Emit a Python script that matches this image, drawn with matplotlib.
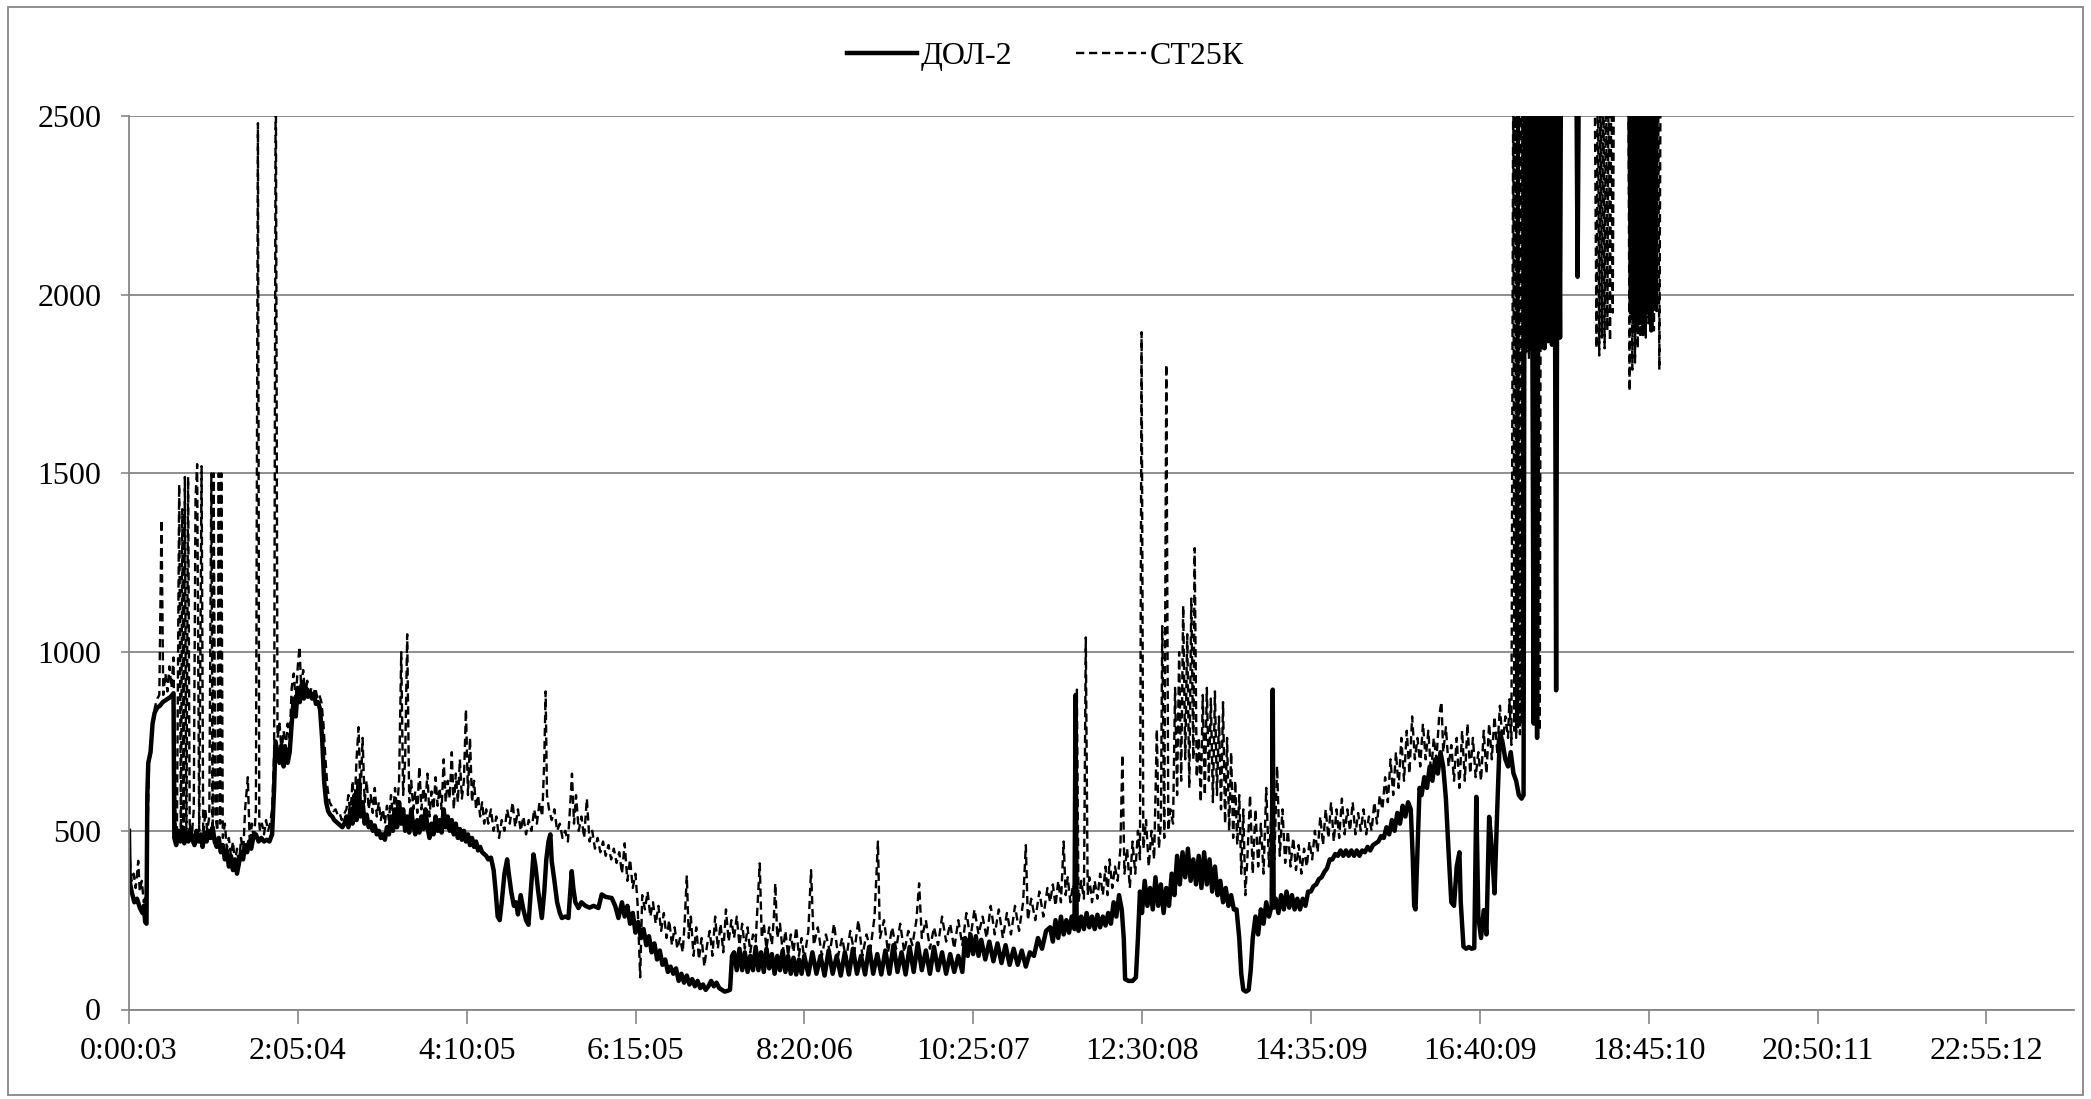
import matplotlib
matplotlib.use("Agg")
import matplotlib.pyplot as plt
from matplotlib.patches import Rectangle

# time in minutes since 0:00:00, value
dol2_pts = [
    (0, 500), (0.5, 360), (2, 330), (4, 300), (6, 310), (8, 285), (10, 270), (11, 290), (12, 245), (13, 240),
    (13.6, 600), (14.3, 690), (16, 720), (17.5, 800), (19, 830), (21, 845), (23, 850), (25, 860), (27, 865),
    (29, 870), (31, 875), (33, 885), (33.6, 480),
    (35, 460), (36.5, 500), (38, 470), (39.5, 510), (41, 465), (42.5, 495), (44, 470), (45.5, 505), (47, 475),
    (48.5, 460), (50, 500), (51.5, 470), (53, 490), (54.5, 455), (56, 495), (57.5, 470), (59, 500), (60.5, 480),
    (62, 510), (63.5, 470), (65, 455),
    (66.5, 480), (68, 440), (69.5, 460), (71, 420), (72.5, 445), (74, 400), (75.5, 430), (77, 390), (78.5, 420),
    (80, 380), (81.5, 410), (83, 440), (84.5, 420), (86, 460), (87.5, 440), (89, 470), (90.5, 450), (92, 480),
    (94, 490), (96, 470), (98, 480), (100, 470), (102, 475), (104, 470), (106, 490),
    (107.5, 620), (108.5, 750), (110, 720), (111.5, 690), (113, 740), (114.5, 680), (116, 730), (117.5, 690),
    (119, 720), (120.5, 800), (122, 870), (123.5, 820), (125, 900), (126.5, 860), (128, 910), (129.5, 870),
    (131, 900), (132.5, 875), (134, 890), (135.5, 870), (137, 880), (138.5, 855), (140, 860), (141.5, 840),
    (143, 760), (144.5, 640), (146, 580),
    (147.5, 555), (149, 545), (150.5, 540), (152, 530), (153.5, 525), (155, 520), (156.5, 515), (158, 510),
    (159.5, 520),
    (161, 540), (162.5, 510), (164, 560), (165.5, 520), (167, 600), (168.5, 530), (170, 640), (171.5, 540),
    (173, 580), (174.5, 520), (176, 545), (177.5, 510), (179, 525), (180.5, 500), (182, 515), (183.5, 490),
    (185, 500), (186.5, 480), (188, 490), (189.5, 475),
    (191, 510), (192.5, 490), (194, 540), (195.5, 500), (197, 560), (198.5, 510), (200, 580), (201.5, 520),
    (203, 560), (204.5, 500), (206, 540), (207.5, 495), (209, 560), (210.5, 515), (212, 490), (213.5, 530),
    (215, 495), (216.5, 540), (218, 505), (219.5, 560), (221, 510), (222.5, 480), (224, 520), (225.5, 490),
    (227, 540), (228.5, 500), (230, 530), (231.5, 495), (233, 560), (234.5, 510), (236, 540), (237.5, 500),
    (239, 530), (240.5, 490), (242, 520), (243.5, 480), (245, 505), (246.5, 475), (248, 500), (249.5, 470),
    (251, 490), (252.5, 460), (254, 480), (255.5, 455), (257, 470), (258.5, 445), (260, 455), (261.5, 440),
    (263, 435), (264.5, 430),
    (266, 420), (268, 425), (270, 390), (271.5, 330), (273, 260), (274.5, 250), (276, 300), (278, 380),
    (280, 420), (281, 387), (283, 330), (285, 290), (286.5, 300), (288, 266), (290, 320), (292, 280), (294, 250),
    (295.8, 237), (297.5, 330), (299.5, 434), (301, 400), (303, 330), (305.7, 256), (307.5, 330), (309, 420),
    (310.6, 470), (312, 490), (313, 415), (315, 360), (317, 300), (319, 270), (320.5, 256), (323, 260),
    (325.4, 256), (327.8, 387), (329, 340), (330.5, 300), (332.8, 284), (335, 300), (338, 290), (341, 285),
    (344, 290), (347.6, 284), (350, 322), (353, 315), (357.4, 312), (360, 290), (362.4, 256),
    (365, 300), (367, 260), (369, 290), (371, 240), (373, 270), (375, 215), (377, 245), (379, 200), (381, 225),
    (383, 180), (385, 205), (387, 160), (389, 185), (391, 140), (393, 165), (395, 125), (397, 140), (399, 105),
    (401, 120), (403, 100), (405, 115), (407, 80), (409, 100), (411, 75), (413, 95), (415, 70), (417, 85),
    (419, 65), (421, 80), (423, 60), (425, 70), (427, 55), (429, 65), (431, 80), (433, 65), (435, 75), (437, 60),
    (439, 55), (441, 50), (443, 52), (445, 55), (446.5, 150),
    (448, 160), (450, 110), (452, 170), (454, 110), (456, 160), (458, 105), (460, 150), (462, 110), (464, 175),
    (466, 110), (468, 160), (470, 105), (472, 170), (474, 115), (476, 155), (478, 100), (480, 150), (482, 110),
    (484, 165), (486, 105), (488, 150), (490, 100), (492, 145), (494, 98), (496, 140), (498, 100), (500, 150),
    (503, 98), (506, 160), (509, 100), (512, 150), (515, 95), (518, 165), (521, 100), (524, 150), (527, 95),
    (530, 160), (533, 98), (536, 170), (539, 100), (542, 150), (545, 98), (548, 175), (551, 100), (554, 155),
    (557, 98), (560, 165), (563, 100), (566, 180), (569, 105), (572, 160), (575, 98), (578, 175), (581, 105),
    (584, 185), (587, 110), (590, 165), (593, 100), (596, 175), (599, 110), (602, 160), (605, 100), (608, 155),
    (611, 105), (614, 150), (617, 105),
    (619, 200), (621, 150), (623, 210), (625, 155), (627, 205), (629, 150), (631, 195), (634, 140), (637, 190),
    (640, 135), (643, 185), (646, 130), (649, 180), (652, 125), (655, 170), (658, 125), (661, 165), (664, 120),
    (667, 160), (670, 150), (673, 200), (676, 170), (679, 220),
    (682, 230), (684, 190), (686, 250), (688, 200), (690, 260), (692, 210), (694, 250), (696, 215), (698, 260),
    (700, 225), (700.8, 880), (701.6, 260), (703, 220), (705, 260), (707, 225), (709, 270), (711, 230),
    (713, 260), (715, 225), (717, 265), (719, 230), (721, 260), (723, 235), (725, 270), (727, 240), (729, 300),
    (731, 260), (733, 320), (735, 280), (736.5, 200), (737.5, 85), (740, 80), (743, 80), (745.5, 90),
    (747, 200), (748.5, 330), (750, 270), (752, 360), (754, 290),
    (756, 340), (758, 280), (760, 370), (762, 290), (764, 350), (766, 270), (768, 340), (770, 290), (772, 380),
    (774, 320), (776, 430), (778, 350), (780, 440), (782, 370), (784, 450), (786, 360), (788, 420), (790, 350),
    (792, 430), (794, 340), (796, 440), (798, 350), (800, 420), (802, 330), (804, 400), (806, 320), (808, 360),
    (810, 300), (812, 340), (814, 290), (816, 320), (818, 280), (820, 280), (822, 200), (823.5, 100),
    (825, 55), (827, 50), (829, 55), (830.5, 110), (832, 200), (834, 260), (836, 210), (838, 280), (840, 240),
    (842, 300), (844, 260), (846, 290), (846.8, 895), (847.5, 285),
    (849, 310), (851, 270), (853, 320), (855, 280), (857, 330), (859, 285), (861, 320), (863, 280), (865, 310),
    (867, 280), (869, 310), (871, 290), (873, 330), (875, 330), (877, 345), (879, 350), (881, 365), (883, 370),
    (885, 385), (887, 395), (889, 420), (891, 420), (893, 435), (895, 430), (897, 445), (899, 430), (901, 445),
    (903, 430), (905, 445), (907, 430), (909, 445), (911, 430), (913, 445), (915, 440), (917, 455), (919, 445),
    (921, 460), (923, 465), (925, 470), (927, 485), (929, 480), (931, 510), (933, 490), (935, 530), (937, 500),
    (939, 550), (941, 520), (943, 570), (945, 540), (947, 580), (949, 560), (950.5, 420), (951.5, 290),
    (952.5, 280), (954, 450), (955.5, 620), (957, 600), (959, 650), (961, 620), (963, 680), (965, 640),
    (967, 700), (969, 660), (971, 720), (973, 680), (975, 590), (977, 440), (979, 300), (981, 290), (983, 400),
    (985, 440), (986, 300), (988, 176), (990, 170), (992, 175), (994, 170), (996, 172), (997.5, 595),
    (999, 260), (1001, 200), (1003, 278), (1005, 210), (1007, 539), (1009, 450), (1011, 325), (1013, 560),
    (1015, 773), (1017, 746), (1019, 700), (1021, 680), (1023, 720), (1025, 661), (1027, 640), (1029, 600),
    (1031, 590), (1032.5, 600),
    (1033.5, 3000), (1035, 1860), (1036, 3000), (1037, 1850), (1038, 3000), (1039, 1870), (1040, 800),
    (1041, 3000), (1042.5, 760), (1044, 3000), (1045, 1860), (1046, 3000), (1048, 1850), (1049, 3000),
    (1050.5, 1870), (1052, 3000), (1053.5, 1860), (1055, 3000), (1056.6, 893), (1058, 3000), (1059.5, 1880),
    (1060.5, 3000), (1071, 3000), (1072.5, 2050), (1074, 3000), (1110, 3000), (1112, 1950), (1113, 3000),
    (1115, 1900), (1116, 3000), (1118, 1920), (1119, 3000), (1121, 1890), (1122, 3000), (1124, 1950),
    (1125, 3000), (1127, 1900), (1128, 3000), (1130, 1960), (1131, 3000), (1440, 3000),
]

st25k_pts = [
    (0, 490), (1, 400), (2, 360), (3.5, 380), (5, 340), (6.9, 416), (8, 330), (9.5, 360), (11, 300),
    (12.5, 320), (13.8, 500), (15, 710), (16.5, 740), (18, 820), (19.5, 850), (21, 870), (22.5, 880),
    (24.1, 1370), (25.4, 880), (27, 940), (28.5, 890), (30, 960), (31.5, 900), (33, 985), (34.5, 520),
    (35.5, 470), (37.2, 1469), (38.5, 480), (39.5, 1400), (40.5, 500), (41.4, 1490), (42.5, 470), (43.8, 1490),
    (45, 520), (46.5, 480), (48, 560), (49.3, 1430), (50.5, 1526), (52, 500), (53.8, 1520), (55, 470),
    (56.5, 560), (58, 500), (59.5, 540), (61, 1500), (62, 480), (62.7, 1500), (64, 540), (65.5, 500),
    (66.5, 1500), (67.5, 520), (68.4, 1500), (69.5, 480),
    (71, 520), (72.5, 450), (74, 480), (75.5, 430), (77, 470), (78.5, 410), (80, 450), (81.5, 400), (83, 480),
    (84.5, 430), (86, 560), (88, 650), (89.5, 460), (91, 520), (92.5, 470), (94, 560), (95.5, 2480),
    (96.5, 520), (97, 500), (98.5, 520), (100, 490), (101.5, 530), (103, 500), (104.5, 520), (106, 560),
    (107.5, 720), (108.7, 2700), (110, 760), (111.5, 800), (113, 720), (114.5, 780), (116, 730), (117.5, 800),
    (119, 760), (120.5, 900), (122, 940), (123.5, 860), (125, 960), (126.3, 1015), (127.5, 900), (129, 950),
    (130.5, 880), (132, 920), (133.5, 870), (135, 900), (136.5, 880), (138, 900), (139.5, 870), (141, 880),
    (142.5, 860), (144, 800), (145.5, 700), (147, 620), (148.5, 580), (150, 570), (151.5, 555), (153, 560),
    (154.5, 545), (156, 550), (157.5, 530), (159, 545),
    (161, 560), (162.5, 600), (164, 540), (165.5, 640), (167, 560), (168.5, 700), (170, 790), (171.5, 600),
    (173, 760), (174.5, 580), (176, 640), (177.5, 560), (179, 600), (180.5, 550), (182, 620), (183.5, 540),
    (185, 580), (186.5, 530), (188, 560), (189.5, 520), (191, 570), (192.5, 530), (194, 600), (195.5, 540),
    (197, 620), (198.5, 560), (200, 640), (201.6, 1000), (203, 600), (204.5, 700), (206, 1050), (207.5, 580),
    (209, 640), (210.5, 560), (212, 610), (213.5, 550), (215, 680), (216.5, 560), (218, 620), (219.5, 580),
    (221, 660), (222.5, 540), (224, 610), (225.5, 560), (227, 650), (228.5, 570), (230, 620), (231.5, 560),
    (233, 700), (234.5, 580), (236, 640), (237.5, 590), (239, 720), (240.5, 560), (242, 660), (243.5, 580),
    (245, 700), (246.5, 590), (248, 640), (249.5, 840), (251, 600), (252.5, 760), (254, 580), (255.5, 640),
    (257, 560), (258.5, 600), (260, 540), (261.5, 580), (263, 520), (264.5, 560),
    (266, 520), (268, 560), (270, 500), (272, 540), (274, 480), (276, 530), (278, 500), (280, 560), (282, 520),
    (284, 580), (286, 510), (288, 560), (290, 500), (292, 540), (294, 490), (296, 530), (298, 500), (300, 560),
    (302, 520), (304, 580), (306, 540), (307.5, 700), (308.5, 890), (309.5, 600), (311, 560), (313, 530),
    (315, 560), (317, 500), (319, 520), (321, 480), (323, 500), (325, 470), (326.5, 560), (328, 660),
    (329.5, 520), (331, 600), (333, 500), (335, 540), (337, 480), (339, 590), (341, 470), (343, 500), (345, 450),
    (347, 480), (349, 440), (351, 470), (353, 430), (355, 460), (357, 420), (359, 450), (361, 410),
    (363, 440), (365, 380), (367, 465), (369, 360), (371, 420), (373, 340), (375, 380), (376.5, 300),
    (378.5, 90), (380, 320), (382, 280), (384, 330), (386, 260), (388, 300), (390, 240), (392, 290), (394, 220),
    (396, 270), (398, 200), (400, 250), (402, 180), (404, 230), (406, 170), (408, 200), (410, 160),
    (411.5, 250), (413, 375), (414.5, 200), (416, 260), (418, 150), (420, 230), (422, 140), (424, 200),
    (426, 120), (428, 180), (430, 220), (432, 150), (434, 260), (436, 170), (438, 240), (440, 160), (442, 280),
    (444, 190), (446, 250),
    (448, 200), (450, 260), (452, 180), (454, 240), (456, 170), (458, 230), (460, 160), (462, 210), (464, 190),
    (465.5, 300), (467, 409), (468.5, 200), (470, 240), (472, 170), (474, 230), (476, 180), (477.5, 260),
    (478.5, 353), (480, 200), (482, 240), (484, 160), (486, 220), (488, 150), (490, 210), (492, 160),
    (494, 230), (496, 150), (498, 200), (500, 140), (503, 220), (505, 390), (507, 180), (510, 230), (513, 150),
    (516, 210), (519, 160), (522, 240), (525, 150), (528, 200), (531, 140), (534, 220), (537, 160), (540, 250),
    (543, 150), (546, 210), (549, 170), (552, 260), (554.5, 470), (556, 200), (559, 250), (562, 160),
    (565, 230), (568, 170), (571, 240), (574, 160), (577, 220), (580, 180), (583, 250), (585, 353), (587, 200),
    (590, 250), (593, 170), (596, 230), (599, 180), (602, 260), (605, 190), (608, 240), (611, 170), (614, 250),
    (617, 180),
    (620, 270), (623, 200), (626, 280), (629, 210), (632, 260), (635, 200), (638, 290), (641, 210), (644, 280),
    (647, 200), (650, 270), (653, 210), (656, 290), (659, 220), (662, 300), (664, 460), (665.5, 250),
    (668, 310), (671, 250), (674, 330), (677, 260), (680, 340),
    (682, 300), (684, 350), (686, 290), (688, 360), (690, 300), (692, 470), (693.5, 320), (695, 370),
    (697, 300), (699, 350), (700.5, 320), (701.8, 895), (703, 300), (705, 360), (707, 310), (708.4, 1041),
    (709.8, 320), (711, 370), (713, 300), (715, 360), (717, 310), (719, 380), (721, 320), (723, 400),
    (724.5, 320), (726, 420), (728, 340), (730, 400), (732, 360), (734, 450), (735.5, 713), (737, 380),
    (739, 450), (741, 340), (743, 470), (745, 380), (747, 500), (748.5, 420), (749.7, 1895), (751, 450),
    (753, 530), (755, 400), (757, 500), (759, 420), (761, 784), (762.5, 450), (764, 520), (765, 1073),
    (766.5, 480), (768, 1805), (769.5, 500), (771, 560), (773, 520),
    (774.5, 900), (776, 600), (777.5, 1000), (779, 640), (780.5, 1130), (782, 700), (783.5, 1050), (785, 620),
    (786.5, 1150), (788, 700), (789, 1291), (790.5, 650), (792, 760), (793.5, 580), (795, 880), (796.5, 600),
    (798, 900), (799.5, 640), (801, 870), (802.5, 580), (804, 890), (805.5, 600), (807, 820), (808.5, 560),
    (810, 860), (811.5, 520), (813, 760), (814.5, 500), (816, 720), (817.5, 480), (819, 640), (820.5, 460),
    (822, 600), (823.5, 380), (825, 560), (826.5, 320),
    (828, 420), (830, 600), (832, 380), (834, 560), (836, 400), (838, 520), (840, 380), (842, 620), (844, 400),
    (846, 580), (848, 420), (850, 681), (852, 430), (854, 560), (856, 410), (858, 500), (860, 400), (862, 480),
    (864, 390), (866, 460), (868, 380), (870, 450), (872, 400), (874, 470), (876, 420), (878, 500), (880, 440),
    (882, 540), (884, 460), (886, 560), (888, 480), (890, 580), (892, 470), (894, 560), (896, 480), (898, 590),
    (900, 490), (902, 560), (904, 500), (906, 580), (908, 490), (910, 550), (912, 500), (914, 560), (916, 490),
    (918, 540), (920, 500), (922, 580), (924, 520), (926, 600), (928, 560), (930, 650), (932, 580), (934, 700),
    (936, 600), (938, 720), (940, 620), (942, 760), (944, 640), (946, 780), (948, 660), (950, 820), (952, 700),
    (954, 760), (956, 680), (958, 800), (960, 700), (962, 780), (964, 660), (966, 760), (968, 700), (970, 820),
    (971.7, 861), (973, 720), (975, 790), (977, 680), (979, 740), (981, 640), (983, 760), (985, 620),
    (987, 780), (989, 640), (991, 800), (993, 660), (995, 760), (997, 650), (999, 720), (1001, 640),
    (1003, 780), (1005, 660), (1007, 800), (1009, 700), (1011, 820), (1013, 720), (1015, 850), (1017, 740),
    (1019, 820), (1021, 760), (1022, 868), (1023.5, 740),
    (1024.9, 2700), (1025.6, 780), (1026.3, 2700), (1027, 760), (1027.7, 2700), (1028.4, 790), (1029.1, 2700),
    (1029.8, 770), (1030.5, 2700), (1031.2, 800), (1031.9, 2700), (1032.6, 820), (1033.3, 2700),
    (1034.5, 1840), (1035.5, 2700), (1036.5, 1820), (1037.5, 2700), (1038.5, 1850), (1039.5, 2700),
    (1040.5, 1800), (1041.5, 2700), (1042.5, 766), (1043.5, 2700), (1044.5, 780), (1045.5, 2700),
    (1046.5, 1850), (1047.5, 2700), (1085, 2700),
    (1086.5, 1850), (1087.5, 2700), (1088.5, 1830), (1089.5, 2700), (1090.5, 1880), (1091.5, 2700),
    (1092.5, 1850), (1093.5, 2700), (1094.5, 1900), (1095.5, 2700), (1096.5, 1870), (1097.5, 2700),
    (1098.5, 1950), (1099.5, 2700), (1110, 2700),
    (1111, 1730), (1112, 2700), (1113, 1790), (1114, 2700), (1115, 1810), (1116, 2700), (1117, 1850),
    (1118, 2700), (1119, 1880), (1120, 2700), (1121, 1900), (1122, 2700), (1123, 1880), (1124, 2700),
    (1125, 1920), (1126, 2700), (1127, 1960), (1128, 2700), (1129, 1900), (1130, 2700), (1131, 1950),
    (1132, 2700), (1133, 1790), (1134, 2700), (1440, 2700),
]

# category labels shown every 7501 s
tick_sec = [3, 7504, 15005, 22505, 30006, 37507, 45008, 52509, 60009, 67510, 75011, 82512]
tick_labels = ["0:00:03", "2:05:04", "4:10:05", "6:15:05", "8:20:06", "10:25:07",
               "12:30:08", "14:35:09", "16:40:09", "18:45:10", "20:50:11", "22:55:12"]
y_ticks = [0, 500, 1000, 1500, 2000, 2500]

plt.rcParams["font.family"] = ["Liberation Serif", "DejaVu Serif"]

fig = plt.figure(figsize=(20.91, 10.99), dpi=100)
ax = fig.add_axes([129 / 2091, 1 - 1009.5 / 1099, (2074 - 129) / 2091, (1009.5 - 116) / 1099])

dt, dv = zip(*dol2_pts)
st, sv = zip(*st25k_pts)
ax.plot(dt, dv, color="black", lw=3.2, label="ДОЛ-2")
ax.plot(st, sv, color="black", lw=1.7, dashes=(3.5, 2), label="СТ25К")

ax.set_xlim(tick_sec[0] / 60, 1440)
ax.set_ylim(0, 2500)
ax.set_yticks(y_ticks)
ax.set_xticks([s / 60 for s in tick_sec])
ax.set_xticklabels(tick_labels)
ax.tick_params(axis="both", labelsize=23, color="#868686", width=1.2)
ax.tick_params(axis="x", length=10, pad=10)
ax.tick_params(axis="y", length=6, pad=14)
ax.grid(axis="y", color="#868686", lw=1.3)
ax.set_axisbelow(True)
for side in ("top", "right"):
    ax.spines[side].set_visible(False)
for side in ("left", "bottom"):
    ax.spines[side].set_color("#868686")
    ax.spines[side].set_linewidth(1.3)

fig.legend(loc="center", bbox_to_anchor=(0.5, 0.949), ncol=2, frameon=False, fontsize=23,
           handlelength=2.2, handletextpad=0.1, columnspacing=2.0)

fig.patches.append(Rectangle((0.004, 0.004), 0.992, 0.99, transform=fig.transFigure,
                             fill=False, edgecolor="#868686", lw=1.3))

fig.savefig("out.png", dpi=100)
